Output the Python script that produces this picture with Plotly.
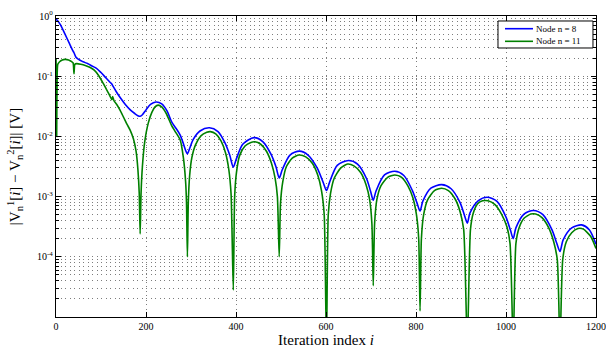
import plotly.graph_objects as go

# Node n = 8 (blue)
x_n8 = [0, 5, 10, 20, 30, 37, 40, 44, 50, 60, 70, 80, 90, 100, 110, 120, 124, 127, 135, 145,
        155, 165, 175, 182, 187, 192, 200, 210, 222, 235, 247, 257, 267, 276, 283, 289, 292, 297,
        305, 320, 341, 360, 375, 386, 394, 401, 415, 440, 460, 478, 489, 496, 503, 520, 541, 560,
        580, 594, 601, 608, 625, 650, 670, 690, 699, 705, 711, 730, 753, 773, 792, 802, 809, 815,
        833, 857, 878, 898, 908, 914, 920, 938, 958, 980, 1000, 1010, 1016, 1022, 1040, 1061, 1082,
        1102, 1113, 1120, 1127, 1146, 1168, 1185, 1200]
y_n8 = [0.89, 0.81, 0.71, 0.50, 0.347, 0.269, 0.245, 0.209, 0.190, 0.174, 0.162, 0.148, 0.135,
        0.115, 0.0955, 0.0794, 0.0741, 0.0676, 0.0537, 0.0417, 0.0331, 0.0275, 0.0240, 0.0221,
        0.0216, 0.0229, 0.0275, 0.0339, 0.0372, 0.0347, 0.0263, 0.0174, 0.0135, 0.0105, 0.00759,
        0.00562, 0.00513, 0.00631, 0.00891, 0.0123, 0.0139, 0.0120, 0.00794, 0.0049, 0.00309,
        0.00427, 0.00741, 0.00955, 0.00813, 0.00501, 0.00309, 0.00204, 0.00282, 0.0049, 0.00569,
        0.0049, 0.00302, 0.0017, 0.00126, 0.00174, 0.00331, 0.00398, 0.00347, 0.0020, 0.00123,
        0.00087, 0.00123, 0.00229, 0.00263, 0.00224, 0.00126, 0.000794, 0.000575, 0.000832,
        0.00138, 0.00158, 0.00135, 0.000794, 0.000479, 0.000363, 0.000537, 0.000851, 0.000977,
        0.000832, 0.000457, 0.000275, 0.000200, 0.000302, 0.000513, 0.000589, 0.000501, 0.000282,
        0.000166, 0.000123, 0.000191, 0.000302, 0.000339, 0.000282, 0.000162]

# Node n = 11 (green)
x_n11 = [0, 1, 1.5, 2.5, 4, 8, 14, 20, 28, 35, 38, 40, 42, 46, 55, 65, 75, 85, 95, 105, 115, 120,
         124, 126, 129, 135, 142, 150, 158, 165, 172, 178, 182, 185, 187, 189, 192, 197, 205, 213,
         220, 227, 235, 245, 257, 266, 276, 283, 288, 290, 292, 294, 297, 302, 310, 322, 335, 343,
         355, 367, 377, 384, 389, 394, 397, 401, 408, 420, 433, 442, 455, 468, 479, 487, 492, 496,
         499, 504, 512, 525, 540, 555, 570, 582, 590, 596, 601, 605, 610, 618, 632, 648, 662, 677,
         689, 697, 702, 705, 708, 713, 722, 737, 753, 768, 782, 793, 801, 806, 809, 812, 817, 826,
         841, 857, 872, 887, 898, 906, 914, 921, 927, 937, 948, 960, 975, 990, 1002, 1009, 1016,
         1022, 1029, 1040, 1055, 1066, 1080, 1095, 1106, 1114, 1120, 1126, 1134, 1146, 1160, 1172,
         1188, 1200]
y_n11 = [0.20, 0.063, 0.010, 0.10, 0.158, 0.174, 0.186, 0.19, 0.186, 0.174, 0.166, 0.110, 0.158,
         0.162, 0.158, 0.151, 0.141, 0.126, 0.102, 0.0759, 0.055, 0.0468, 0.0407, 0.0457, 0.0389,
         0.0339, 0.0275, 0.0209, 0.0158, 0.0126, 0.00912, 0.00562, 0.00282, 0.00112, 0.00024,
         0.00112, 0.00316, 0.00794, 0.0166, 0.0251, 0.0309, 0.0331, 0.0309, 0.024, 0.0151, 0.0117,
         0.0087, 0.00447, 0.00178, 0.000794, 0.0001, 0.000794, 0.00224, 0.00447, 0.00724, 0.0102,
         0.0117, 0.012, 0.011, 0.00832, 0.00525, 0.00282, 0.00112, 0.000028, 0.001, 0.00251,
         0.00479, 0.00692, 0.00794, 0.00813, 0.00741, 0.00562, 0.00355, 0.002, 0.001, 0.0001,
         0.000794, 0.00178, 0.00316, 0.00437, 0.0049, 0.00457, 0.00355, 0.00224, 0.00126, 0.0005,
         0.0000032, 0.0005, 0.00112, 0.002, 0.00295, 0.00347, 0.00324, 0.00251, 0.00158, 0.000891,
         0.000355, 0.000033, 0.000355, 0.000891, 0.00151, 0.00209, 0.00229, 0.00209, 0.00151,
         0.000955, 0.0005, 0.0002, 0.0000126, 0.0002, 0.0005, 0.000891, 0.00126, 0.00138, 0.00126,
         0.000912, 0.000562, 0.000282, 0.0000032, 0.000282, 0.000525, 0.000759, 0.000851, 0.000851,
         0.000741, 0.000513, 0.000316, 0.000166, 0.0000032, 0.000166, 0.000302, 0.000437, 0.000513,
         0.000513, 0.000447, 0.000302, 0.000178, 0.000089, 0.0000032, 0.000089, 0.000178, 0.000251,
         0.000295, 0.000288, 0.000219, 0.000138]

x_ticks = [0, 200, 400, 600, 800, 1000, 1200]
y_ticks = [1e-4, 1e-3, 1e-2, 1e-1, 1]
y_ticktext = ["10<sup>-4</sup>", "10<sup>-3</sup>", "10<sup>-2</sup>", "10<sup>-1</sup>", "10<sup>0</sup>"]
series_names = ["Node n = 8", "Node n = 11"]
series_colors = ["#0000FF", "#008000"]

FONT = "Liberation Serif, Times New Roman, serif"
GRID = "#7d7d7d"
DOT = "1px,3.5px"

minor_vals = [m * 10.0 ** e for e in range(-5, 0) for m in range(2, 10)]

fig = go.Figure()
fig.add_trace(go.Scatter(x=x_n8, y=y_n8, mode="lines", name=series_names[0], showlegend=False,
                         line=dict(color=series_colors[0], width=1.6, shape="spline", smoothing=0.8)))
fig.add_trace(go.Scatter(x=x_n11, y=y_n11, mode="lines", name=series_names[1], showlegend=False,
                         line=dict(color=series_colors[1], width=1.6, shape="spline", smoothing=0.6)))

axis_common = dict(showline=True, linecolor="black", linewidth=1.3, mirror="ticks",
                   ticks="inside", ticklen=5, tickcolor="black", tickwidth=1,
                   showgrid=True, gridcolor=GRID, griddash=DOT, gridwidth=1,
                   zeroline=False, automargin=False,
                   tickfont=dict(family=FONT, size=10, color="black"))

fig.update_xaxes(range=[0, 1200], tickvals=x_ticks, **axis_common,
                 title=dict(text="Iteration index <i>i</i>", font=dict(family=FONT, size=15, color="black"),
                            standoff=2))
fig.update_yaxes(type="log", range=[-5, 0], tickvals=y_ticks, ticktext=y_ticktext, **axis_common,
                 minor=dict(tickvals=minor_vals, ticks="inside", ticklen=3, tickcolor="black",
                            showgrid=True, gridcolor=GRID, griddash=DOT, gridwidth=1),
                 title=dict(text="|V<sub>n</sub><sup>1</sup>[<i>i</i>] − V<sub>n</sub><sup>2</sup>[<i>i</i>]| [V]",
                            font=dict(family=FONT, size=15, color="black"), standoff=12))

# manual legend (compact, like the reference)
lg_x0, lg_x1, lg_y0, lg_y1 = 0.8185, 0.9944, 0.8937, 0.9834
fig.add_shape(type="rect", xref="paper", yref="paper", x0=lg_x0, x1=lg_x1, y0=lg_y0, y1=lg_y1,
              line=dict(color="black", width=1), fillcolor="white", layer="above")
for name, color, yy in zip(series_names, series_colors, [0.9578, 0.9159]):
    fig.add_shape(type="line", xref="paper", yref="paper", x0=0.8315, x1=0.8833, y0=yy, y1=yy,
                  line=dict(color=color, width=1.6), layer="above")
    fig.add_annotation(xref="paper", yref="paper", x=0.886, y=yy, text=name, showarrow=False,
                       xanchor="left", yanchor="middle",
                       font=dict(family=FONT, size=9, color="black"))

fig.update_layout(
    width=606, height=348,
    margin=dict(l=56, r=10, t=16, b=31),
    paper_bgcolor="white", plot_bgcolor="white",
    showlegend=False,
)

fig.write_html("out.html", config={"displayModeBar": False},
               post_script="document.body.style.margin='0';document.body.style.padding='0';"
                           "document.body.style.overflow='hidden';")
